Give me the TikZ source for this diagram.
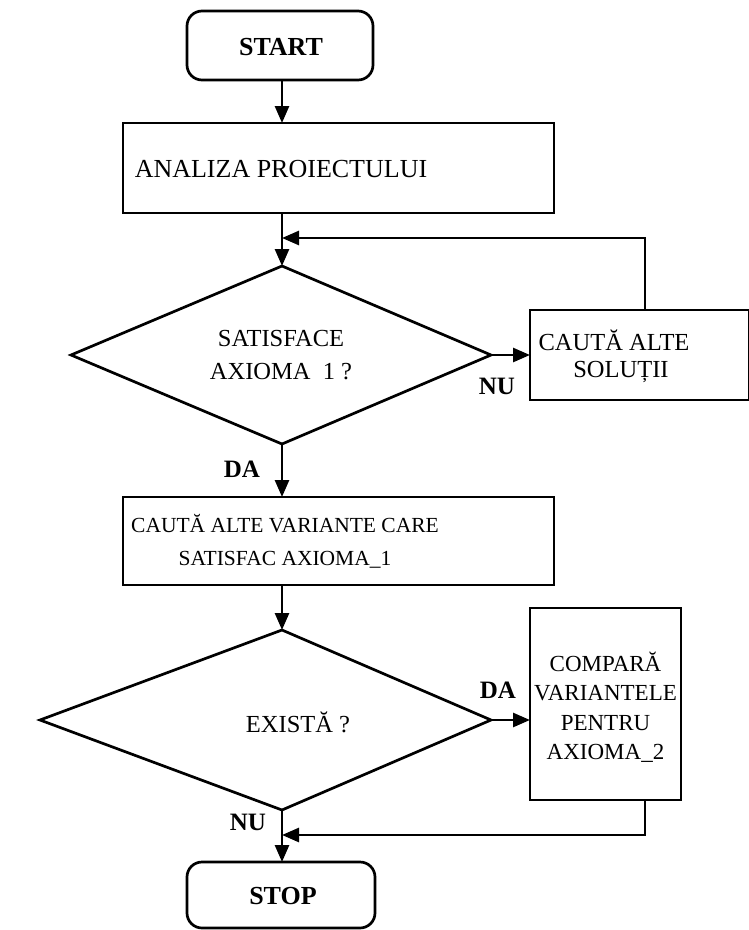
\documentclass[tikz,border=0pt]{standalone}
\usepackage{fontspec}
\setmainfont{Liberation Serif}
\usetikzlibrary{arrows.meta}
\begin{document}
\begin{tikzpicture}[x=1pt,y=-1pt,
  line width=2.7pt,
  arr/.style={-{Triangle[length=17pt,width=14pt]}},
  txt/.style={inner sep=0pt,align=center,font=\fontsize{24.5}{33}\selectfont},
  btxt/.style={inner sep=0pt,align=center,font=\fontsize{26}{30}\selectfont\bfseries},
  lbl/.style={inner sep=0pt,font=\fontsize{25}{28}\selectfont\bfseries}]
\useasboundingbox (0,0) rectangle (749,930);
% shapes
\draw[rounded corners=15pt] (187,11) rectangle (373,80);
\coordinate (startb) at (282,80);
\node[btxt] (start) at (281,47) {START};
\draw (123,123) rectangle (554,213);
\coordinate (anat) at (282,123);
\coordinate (anab) at (282,213);
\node[txt,font=\fontsize{26}{30}\selectfont] (ana) at (281,169) {ANALIZA PROIECTULUI};
\draw (282,266) coordinate (d1t) -- (491,355) coordinate (d1r) -- (282,444) coordinate (d1b) -- (71,355) -- cycle;
\node[txt] (sat) at (281,355) {SATISFACE\\AXIOMA\ \ 1 ?};
\draw (530,310) rectangle (749,400);
\coordinate (solL) at (530,355);
\coordinate (solT) at (645,310);
\node[txt] (sol1) at (614,340) {CAUTĂ ALTE};
\node[txt] (sol2) at (621,372) {SOLUȚII};
\draw (123,497) rectangle (554,585);
\coordinate (b2t) at (282,497);
\coordinate (b2b) at (282,585);
\node[txt,font=\fontsize{21.5}{33}\selectfont] (var) at (285,541) {CAUTĂ ALTE VARIANTE CARE\\SATISFAC AXIOMA\_1};
\draw (282,630) coordinate (d2t) -- (491,720) coordinate (d2r) -- (282,810) coordinate (d2b) -- (40,720) -- cycle;
\node[txt] (ex) at (298,722) {EXISTĂ ?};
\draw (530,608) rectangle (681,800);
\coordinate (cmpL) at (530,720);
\coordinate (cmpB) at (645,800);
\node[txt,font=\fontsize{23}{29.5}\selectfont] (cmp) at (605.5,707) {COMPARĂ\\VARIANTELE\\PENTRU\\AXIOMA\_2};
\draw[rounded corners=15pt] (187,862) rectangle (375,928);
\coordinate (stopt) at (282,862);
\node[btxt] (stop) at (283,896) {STOP};
% connectors
\coordinate (j1) at (282,238);
\coordinate (j2) at (282,835);
\draw[arr] (startb) -- (anat);
\draw[arr] (anab) -- (d1t);
\draw[arr] (solT) |- (j1);
\draw[arr] (d1r) -- (solL);
\draw[arr] (d1b) -- (b2t);
\draw[arr] (b2b) -- (d2t);
\draw[arr] (d2r) -- (cmpL);
\draw[arr] (cmpB) |- (j2);
\draw[arr] (d2b) -- (stopt);
% labels
\node[lbl] (nu1) at (497,386) {NU};
\node[lbl] (da1) at (242,469) {DA};
\node[lbl] (da2) at (498,690) {DA};
\node[lbl] (nu2) at (248,822) {NU};
\end{tikzpicture}
\end{document}
